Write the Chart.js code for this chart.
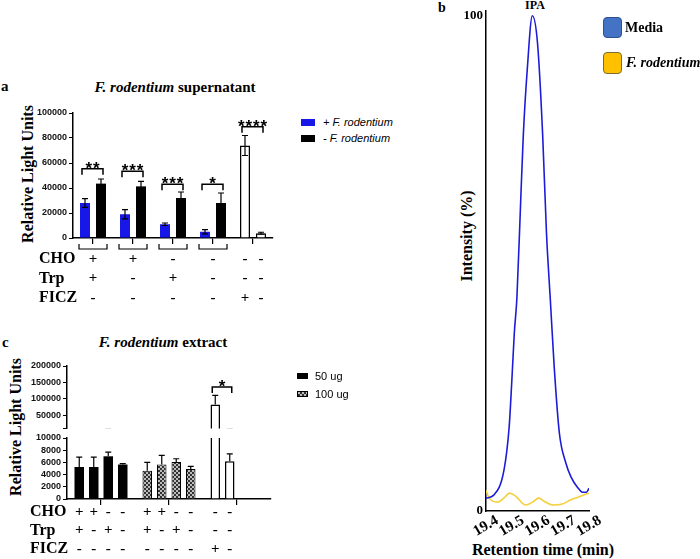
<!doctype html>
<html lang="en">
<head>
<meta charset="UTF-8" />
<title>F. rodentium AhR activity</title>
<script src="https://cdn.jsdelivr.net/npm/chart.js"></script>
<style>
  body { margin: 0; background: #fff; }
  #page { position: relative; width: 700px; height: 559px; overflow: hidden; font-family: "Liberation Serif", serif; color: #000; }
  #page canvas { position: absolute; }
  .t { position: absolute; font-weight: bold; white-space: nowrap; line-height: 1; }
  .c { transform: translate(-50%, -50%); }
  .l { transform: translate(0, -50%); }
  .v { transform: translate(-50%, -50%) rotate(-90deg); }
  .sw { position: absolute; box-sizing: border-box; }
  .sans { font-family: "Liberation Sans", Arial, sans-serif; font-weight: normal; }
</style>
</head>
<body>
<div id="page">
  <!-- panel a -->
  <div class="t l" style="left:1px;top:86px;font-size:15px">a</div>
  <div class="t c" style="left:175px;top:87px;font-size:15px"><i>F. rodentium</i> supernatant</div>
  <div class="t v" style="left:28px;top:174px;font-size:16px">Relative Light Units</div>
  <canvas id="chartA" width="300" height="210" style="left:0;top:100px"></canvas>
  <div class="sw" style="left:301px;top:119px;width:14px;height:7px;background:#1717e8"></div>
  <div class="t l sans" style="left:323px;top:122px;font-size:11px;font-style:italic">+ F. rodentium</div>
  <div class="sw" style="left:301px;top:135px;width:14px;height:7px;background:#000"></div>
  <div class="t l sans" style="left:323px;top:138px;font-size:11px;font-style:italic">- F. rodentium</div>

  <!-- panel b -->
  <div class="t l" style="left:438px;top:8px;font-size:14px">b</div>
  <div class="t c" style="left:535px;top:5px;font-size:12px">IPA</div>
  <div class="t v" style="left:467px;top:236px;font-size:16px">Intensity (%)</div>
  <div class="t c" style="left:543px;top:550px;font-size:16px">Retention time (min)</div>
  <canvas id="chartB" width="270" height="559" style="left:430px;top:0"></canvas>
  <div class="sw" style="left:603px;top:17px;width:19px;height:21px;background:#4472c4;border:1px solid #2f528f;border-radius:4px"></div>
  <div class="t l" style="left:625px;top:28px;font-size:14px">Media</div>
  <div class="sw" style="left:603px;top:52px;width:19px;height:22px;background:#ffc000;border:1px solid #7a6a35;border-radius:4px"></div>
  <div class="t l" style="left:626px;top:63px;font-size:14px"><i>F. rodentium</i></div>

  <!-- panel c -->
  <div class="t l" style="left:2px;top:342px;font-size:15px">c</div>
  <div class="t c" style="left:163px;top:342px;font-size:15px"><i>F. rodentium</i> extract</div>
  <div class="t v" style="left:16px;top:427px;font-size:16px">Relative Light Units</div>
  <canvas id="chartCU" width="300" height="80" style="left:0;top:356px"></canvas>
  <canvas id="chartCL" width="300" height="131" style="left:0;top:428px"></canvas>
  <div class="sw" style="left:297px;top:373px;width:11px;height:6px;background:#000"></div>
  <div class="t l sans" style="left:315px;top:376px;font-size:11px">50 ug</div>
  <div class="sw" style="left:297px;top:391px;width:11px;height:6px;border:1px solid #000;background:repeating-conic-gradient(#333 0 25%, #bbb 0 50%) 0 0/4px 4px"></div>
  <div class="t l sans" style="left:315px;top:394px;font-size:11px">100 ug</div>
</div>

<script>
  // ---- panel a: supernatant ----
  const aGroups = ['CHO + Trp', 'CHO', 'Trp', 'none', 'FICZ'];
  const aControl = [false, false, false, false, true];
  const aWith = [28000, 19000, 11000, 5000, 74000];
  const aWithErr = [3500, 3700, 1000, 1700, 8000];
  const aWithout = [43500, 41300, 32000, 28000, 3800];
  const aWithoutErr = [3700, 4000, 4800, 8000, 800];
  const aStars = ['**', '***', '***', '*', '****'];
  const aStarLevel = [55500, 53500, 43000, 43000, 89000];
  const aTicks = [0, 20000, 40000, 60000, 80000, 100000];
  const aCHO = ['+', '+', '-', '-', '-', '-'];
  const aTrp = ['+', '-', '+', '-', '-', '-'];
  const aFICZ = ['-', '-', '-', '-', '+', '-'];

  // ---- panel b: IPA chromatogram ----
  const bTime = [19.40, 19.43, 19.47, 19.49, 19.50, 19.51, 19.52, 19.535, 19.545, 19.56, 19.58,
                 19.60, 19.62, 19.635, 19.65, 19.665, 19.685, 19.71, 19.73, 19.755, 19.775, 19.79, 19.80];
  const bMedia = [2.6, 3.2, 8.3, 17, 26, 36, 43, 63, 76, 89, 100,
                  94.5, 76, 56, 42.5, 29, 15.7, 9.7, 6.9, 4.8, 3.8, 3.8, 4.6];
  const bFrodTime = [19.40, 19.412, 19.446, 19.469, 19.492, 19.515, 19.554, 19.581,
                     19.604, 19.631, 19.662, 19.696, 19.727, 19.758, 19.777, 19.80];
  const bFrod = [4.2, 2.6, 1.8, 2.6, 3.6, 3.0, 1.2, 1.8, 2.6, 1.8, 1.2, 1.4, 2.2, 2.8, 3.2, 3.6];
  const bXTicks = [19.4, 19.5, 19.6, 19.7, 19.8];
  const bYTicks = [0, 100];

  // ---- panel c: extract ----
  const cGroups = ['50 ug', '100 ug', 'FICZ'];
  const c50 = [5250, 5250, 7000, 5650];
  const c50Err = [1600, 1600, 700, 150];
  const c100 = [4650, 5650, 6050, 4900];
  const c100Err = [1350, 1500, 550, 450];
  const cCtrl = [83000, 6200];
  const cCtrlErr = [28000, 1200];
  const cStarLevel = 136000;
  const cUpperTicks = [10000, 50000, 100000, 150000, 200000];
  const cLowerTicks = [0, 2000, 4000, 6000, 8000, 10000];
  const cCHO = ['+', '+', '-', '-', '+', '+', '-', '-', '-', '-'];
  const cTrp = ['+', '-', '+', '-', '+', '-', '+', '-', '-', '-'];
  const cFICZ = ['-', '-', '-', '-', '-', '-', '-', '-', '+', '-'];

  const BLUE = '#1717e8', BLACK = '#000', WHITE = '#fff';

  Chart.defaults.font.family = '"Liberation Sans", Arial, sans-serif';
  Chart.defaults.animation = false;
  Chart.defaults.plugins.legend.display = false;
  Chart.defaults.plugins.tooltip.enabled = false;

  // error bars, stored as "errors" on each dataset
  const errorBars = {
    id: 'errbars',
    afterDatasetsDraw(chart, args, opts) {
      const { ctx, chartArea: a, scales: { y } } = chart;
      ctx.save();
      ctx.beginPath();
      ctx.rect(a.left, a.top - 1, a.right - a.left, a.bottom - a.top + 1);
      ctx.clip();
      ctx.strokeStyle = '#000';
      ctx.lineWidth = 1.2;
      chart.data.datasets.forEach((ds, i) => {
        const meta = chart.getDatasetMeta(i);
        ds.data.forEach((v, j) => {
          const e = ds.errors[j];
          if (v == null || e == null) return;
          const x = meta.data[j].x;
          const top = y.getPixelForValue(v + e);
          const bot = y.getPixelForValue(opts.both ? v - e : v);
          ctx.beginPath();
          ctx.moveTo(x, bot); ctx.lineTo(x, top);
          ctx.moveTo(x - 3, top); ctx.lineTo(x + 3, top);
          if (opts.both) { ctx.moveTo(x - 3, bot); ctx.lineTo(x + 3, bot); }
          ctx.stroke();
        });
      });
      ctx.restore();
    }
  };

  // significance brackets with stars
  const sigBrackets = {
    id: 'sig',
    afterDatasetsDraw(chart, args, opts) {
      if (!opts.items) return;
      const { ctx, scales: { y } } = chart;
      ctx.save();
      ctx.strokeStyle = '#000';
      ctx.fillStyle = '#000';
      ctx.lineWidth = 1.5;
      ctx.font = 'bold 17px "Liberation Sans", Arial';
      ctx.textAlign = 'center';
      opts.items.forEach(it => {
        const xa = chart.getDatasetMeta(0).data[it.cat].x - 3;
        const xb = chart.getDatasetMeta(1).data[it.cat].x + 2;
        const yy = y.getPixelForValue(it.level);
        ctx.beginPath();
        ctx.moveTo(xa, yy + 6); ctx.lineTo(xa, yy); ctx.lineTo(xb, yy); ctx.lineTo(xb, yy + 6);
        ctx.stroke();
        const n = it.text.length;
        for (let k = 0; k < n; k++) {
          ctx.fillText('*', (xa + xb) / 2 + (k - (n - 1) / 2) * 7.5, yy + 5);
        }
      });
      ctx.restore();
    }
  };

  // CHO / Trp / FICZ table below the x axis, plus group brackets
  const condTable = {
    id: 'cond',
    afterDraw(chart, args, opts) {
      if (!opts.rows) return;
      const { ctx, chartArea: a, scales: { x } } = chart;
      ctx.save();
      ctx.strokeStyle = '#000';
      ctx.lineWidth = 1.2;
      (opts.brackets || []).forEach(i => {
        const cx = x.getPixelForValue(i);
        ctx.beginPath();
        ctx.moveTo(cx - 14, a.bottom + 6); ctx.lineTo(cx - 14, a.bottom + 11);
        ctx.lineTo(cx + 14, a.bottom + 11); ctx.lineTo(cx + 14, a.bottom + 6);
        ctx.stroke();
      });
      const xs = opts.columns(chart);
      ctx.fillStyle = '#000';
      ctx.textBaseline = 'middle';
      opts.rows.forEach((row, r) => {
        const yy = opts.top + r * opts.gap;
        ctx.font = 'bold 16px "Liberation Serif"';
        ctx.textAlign = 'left';
        ctx.fillText(opts.names[r], opts.nameX, yy);
        ctx.font = 'bold 15px "Liberation Serif"';
        ctx.textAlign = 'center';
        row.forEach((s, j) => ctx.fillText(s, xs[j], yy));
      });
      ctx.restore();
    }
  };

  // rotated tick labels for the chromatogram
  const rotLabels = {
    id: 'rot',
    afterDraw(chart) {
      const { ctx, chartArea: a, scales: { x } } = chart;
      ctx.save();
      ctx.fillStyle = '#000';
      ctx.font = 'bold 15px "Liberation Serif"';
      ctx.textAlign = 'center';
      ctx.textBaseline = 'middle';
      x.ticks.forEach(t => {
        ctx.save();
        ctx.translate(x.getPixelForValue(t.value), a.bottom + 15);
        ctx.rotate(-30 * Math.PI / 180);
        ctx.fillText(t.value.toFixed(1), 0, 0);
        ctx.restore();
      });
      ctx.restore();
    }
  };

  function yAxis(ticks, width, min, max, opts = {}) {
    return {
      min, max,
      afterBuildTicks: s => { s.ticks = ticks.map(v => ({ value: v })); },
      afterFit: s => { s.width = width; },
      ticks: {
        autoSkip: false,
        font: { size: 9, weight: 'bold' }, color: '#111', padding: 2,
        callback: v => (opts.hide && opts.hide.includes(v)) ? '' : String(v)
      },
      grid: { display: true, drawOnChartArea: false, drawTicks: true, tickLength: 4, color: '#000', lineWidth: 1 },
      border: { display: true, color: '#000', width: 1.5 }
    };
  }

  function xAxis(height) {
    return {
      afterFit: s => { s.height = height; },
      ticks: { display: false },
      grid: { display: true, offset: false, drawOnChartArea: false, drawTicks: true, tickLength: 6, color: '#000', lineWidth: 1.2 },
      border: { display: true, color: '#000', width: 1.5 }
    };
  }

  // ---- chart a ----
  new Chart(document.getElementById('chartA'), {
    type: 'bar',
    data: {
      labels: aGroups,
      datasets: [
        {
          label: '+ F. rodentium', data: aWith, errors: aWithErr,
          backgroundColor: aControl.map(c => c ? WHITE : BLUE),
          borderColor: BLACK, borderWidth: aControl.map(c => c ? 1.5 : 0), clip: 0
        },
        {
          label: '- F. rodentium', data: aWithout, errors: aWithoutErr,
          backgroundColor: aControl.map(c => c ? WHITE : BLACK),
          borderColor: BLACK, borderWidth: aControl.map(c => c ? 1.5 : 0), clip: 0
        }
      ]
    },
    options: {
      responsive: false,
      layout: { autoPadding: false, padding: { top: 13, right: 27, bottom: 0, left: 0 } },
      datasets: { bar: { categoryPercentage: 0.8, barPercentage: 0.625 } },
      scales: { x: xAxis(72), y: yAxis(aTicks, 73, 0, 100000) },
      plugins: {
        errbars: { both: true },
        sig: { items: aStars.map((s, i) => ({ cat: i, level: aStarLevel[i], text: s })) },
        cond: {
          rows: [aCHO, aTrp, aFICZ], names: ['CHO', 'Trp', 'FICZ'],
          nameX: 39, top: 159, gap: 19.5, brackets: [0, 1, 2, 3],
          columns: ch => {
            const x = ch.scales.x;
            const last = aGroups.length - 1;
            return [0, 1, 2, 3].map(i => x.getPixelForValue(i))
              .concat([ch.getDatasetMeta(0).data[last].x, ch.getDatasetMeta(1).data[last].x]);
          }
        }
      }
    },
    plugins: [errorBars, sigBrackets, condTable]
  });

  // ---- chart b ----
  new Chart(document.getElementById('chartB'), {
    type: 'line',
    data: {
      datasets: [
        {
          label: 'Media', data: bTime.map((t, i) => ({ x: t, y: bMedia[i] })),
          borderColor: '#1c1cd8', borderWidth: 1.6, pointRadius: 0, cubicInterpolationMode: 'monotone'
        },
        {
          label: 'F. rodentium', data: bFrodTime.map((t, i) => ({ x: t, y: bFrod[i] })),
          borderColor: '#f3d03c', borderWidth: 1.6, pointRadius: 0, cubicInterpolationMode: 'monotone'
        }
      ]
    },
    options: {
      responsive: false,
      layout: { autoPadding: false, padding: { top: 10, right: 111, bottom: 0, left: 0 } },
      scales: {
        x: {
          type: 'linear', min: 19.4, max: 19.8,
          afterBuildTicks: s => { s.ticks = bXTicks.map(v => ({ value: v })); },
          afterFit: s => { s.height = 48; },
          ticks: { display: false },
          grid: { display: false },
          border: { display: true, color: '#000', width: 1.5 }
        },
        y: {
          min: 0, max: 101,
          afterBuildTicks: s => { s.ticks = bYTicks.map(v => ({ value: v })); },
          afterFit: s => { s.width = 56; },
          ticks: { autoSkip: false, font: { family: '"Liberation Serif"', size: 13, weight: 'bold' }, color: '#000', padding: 3 },
          grid: { display: false, drawTicks: false },
          border: { display: true, color: '#000', width: 1.5 }
        }
      }
    },
    plugins: [rotLabels]
  });

  // ---- chart c (broken axis: upper and lower part) ----
  const tile = document.createElement('canvas');
  tile.width = 4; tile.height = 4;
  const tg = tile.getContext('2d');
  tg.fillStyle = '#bdbdbd'; tg.fillRect(0, 0, 4, 4);
  tg.fillStyle = '#333'; tg.fillRect(0, 0, 2, 2); tg.fillRect(2, 2, 2, 2);
  const checker = document.getElementById('chartCL').getContext('2d').createPattern(tile, 'repeat');

  function cDatasets() {
    return [0, 1, 2, 3].map(k => ({
      label: 'slot ' + (k + 1),
      data: [c50[k], c100[k], cCtrl[k] ?? null],
      errors: [c50Err[k], c100Err[k], cCtrlErr[k] ?? null],
      backgroundColor: [BLACK, checker, WHITE],
      borderColor: BLACK,
      borderWidth: [0, 1, 1.5],
      clip: 0
    }));
  }
  const cBarOpts = { bar: { categoryPercentage: 0.853, barPercentage: 0.655 } };

  new Chart(document.getElementById('chartCU'), {
    type: 'bar',
    data: { labels: cGroups, datasets: cDatasets() },
    options: {
      responsive: false,
      layout: { autoPadding: false, padding: { top: 10, right: 29, bottom: 6.7, left: 0 } },
      datasets: cBarOpts,
      scales: {
        x: { display: false },
        y: yAxis(cUpperTicks, 67, 10000, 200000, { hide: [10000] })
      },
      plugins: {
        errbars: { both: false },
        sig: { items: [{ cat: 2, level: cStarLevel, text: '*' }] }
      }
    },
    plugins: [errorBars, sigBrackets]
  });

  new Chart(document.getElementById('chartCL'), {
    type: 'bar',
    data: { labels: cGroups, datasets: cDatasets() },
    options: {
      responsive: false,
      layout: { autoPadding: false, padding: { top: 10, right: 29, bottom: 0, left: 0 } },
      datasets: cBarOpts,
      scales: { x: xAxis(60), y: yAxis(cLowerTicks, 67, 0, 10000) },
      plugins: {
        errbars: { both: false },
        cond: {
          rows: [cCHO, cTrp, cFICZ], names: ['CHO', 'Trp', 'FICZ'],
          nameX: 30, top: 84, gap: 18.5,
          columns: ch => {
            const xs = [];
            cGroups.forEach((g, gi) => {
              [0, 1, 2, 3].forEach(k => {
                const v = ch.data.datasets[k].data[gi];
                if (v != null) xs.push(ch.getDatasetMeta(k).data[gi].x);
              });
            });
            return xs;
          }
        }
      }
    },
    plugins: [errorBars, condTable]
  });
</script>
</body>
</html>
